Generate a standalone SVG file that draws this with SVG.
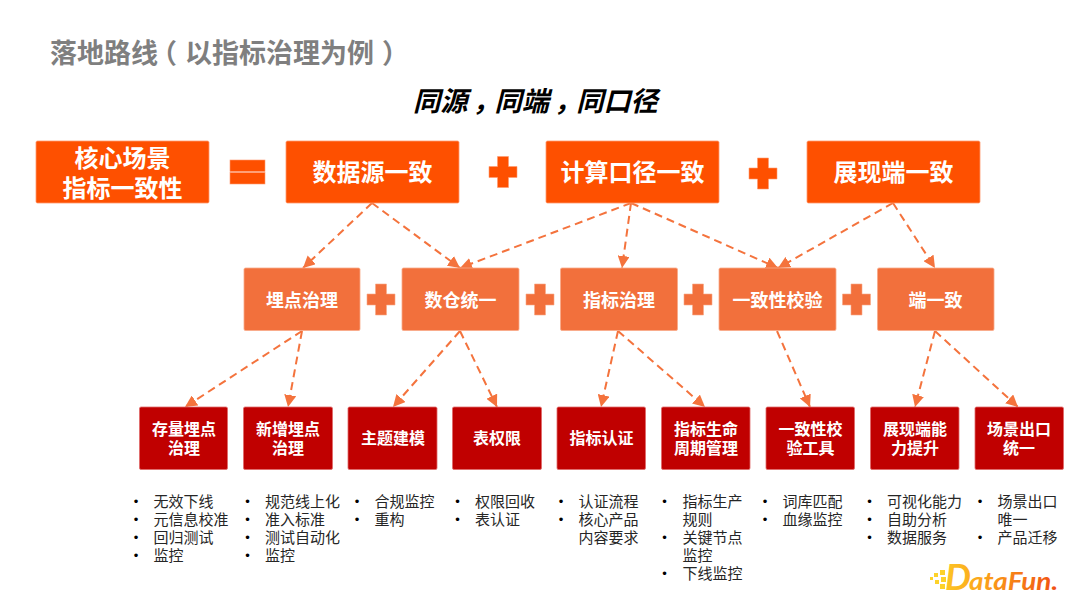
<svg xmlns="http://www.w3.org/2000/svg" width="1080" height="608" viewBox="0 0 1080 608">
<style>
text{font-family:"Noto Sans CJK SC","Noto Sans",sans-serif}
.title{font-size:27px;font-weight:700;fill:#7f7f7f}
.sub{font-size:27.2px;font-weight:700;font-style:italic;fill:#000}
.c{text-anchor:middle;fill:#fff;font-weight:700}
.t{font-size:24px}.m{font-size:18px}.b{font-size:16px}
.r1{fill:#fe5000;stroke:#ff9a70;stroke-width:.8}
.r2{fill:#f2703c;stroke:#f9a988;stroke-width:.8}
.r3{fill:#c00000;stroke:#e06a6a;stroke-width:.8}
.li{font-size:15px;fill:#262626}
.dot{font-family:"Liberation Sans",sans-serif;font-size:13px;fill:#000;text-anchor:middle}
.k{fill:none;stroke:#f4733d;stroke-width:2;stroke-dasharray:8 5;marker-end:url(#a)}
.op1{fill:#fe5000;stroke:#ff9a70;stroke-width:.6}
.op2{fill:#f2703c;stroke:#f9a988;stroke-width:.6}
.logo{font-family:Lato,"Liberation Sans",sans-serif;font-weight:700;font-style:italic;fill:url(#g)}
</style>
<defs>
<marker id="a" markerUnits="userSpaceOnUse" markerWidth="13" markerHeight="12" refX="12" refY="6" orient="auto"><path d="M0 0L12 6L0 12Z" fill="#f4733d"/></marker>
<linearGradient id="g" gradientUnits="userSpaceOnUse" x1="930" y1="0" x2="1058" y2="0"><stop offset="0" stop-color="#fdd22a"/><stop offset=".4" stop-color="#fba51a"/><stop offset="1" stop-color="#f04e12"/></linearGradient>
<path id="p" d="M-5.5-15.5H5.5V-5.5H14V5.5H5.5V15.5H-5.5V5.5H-14V-5.5H-5.5Z"/>
</defs>
<text class="title" x="50" y="63">落地路线<tspan dx="-8">（</tspan><tspan dx="8">以指标治理为例</tspan><tspan dx="8">）</tspan></text>
<text class="sub" x="413" y="111">同源<tspan dx="5">，</tspan><tspan dx="-5">同端</tspan><tspan dx="5">，</tspan><tspan dx="-5">同口径</tspan></text>

<g id="connectors">
<path class="k" d="M372 203L303 268"/>
<path class="k" d="M372 203L460 268"/>
<path class="k" d="M631 203L460 268"/>
<path class="k" d="M631 203L622 268"/>
<path class="k" d="M631 203L778 268"/>
<path class="k" d="M893 203L778 268"/>
<path class="k" d="M893 203L935 268"/>
<path class="k" d="M302 331L185 407"/>
<path class="k" d="M302 331L288 407"/>
<path class="k" d="M460 331L393 407"/>
<path class="k" d="M460 331L497 407"/>
<path class="k" d="M618 331L601 407"/>
<path class="k" d="M618 331L705 407"/>
<path class="k" d="M777 331L810 407"/>
<path class="k" d="M935 331L915 407"/>
<path class="k" d="M935 331L1018 407"/>
</g>

<g id="n-core"><rect class="r1" x="36" y="141" width="173" height="62" rx="1.5"/><text class="c t" x="122.5" y="166.5">核心场景</text><text class="c t" x="122.5" y="196.5">指标一致性</text></g>
<g id="op-eq"><rect class="op1" x="230" y="160" width="35" height="11.5"/><rect class="op1" x="230" y="172.5" width="35" height="11.5"/></g>
<g id="n-source"><rect class="r1" x="286" y="141" width="173" height="62" rx="1.5"/><text class="c t" x="372.5" y="181">数据源一致</text></g>
<g id="op-p1"><use href="#p" class="op1" x="503" y="172"/></g>
<g id="n-calc"><rect class="r1" x="546" y="141" width="173" height="62" rx="1.5"/><text class="c t" x="632.5" y="181">计算口径一致</text></g>
<g id="op-p2"><use href="#p" class="op1" x="763" y="173.500"/></g>
<g id="n-display"><rect class="r1" x="807" y="141" width="173" height="62" rx="1.5"/><text class="c t" x="893.500" y="181">展现端一致</text></g>

<g id="n-track"><rect class="r2" x="244" y="268" width="116" height="62.500" rx="1.500"/><text class="c m" x="302" y="306.500">埋点治理</text></g>
<g id="op-p3"><use href="#p" class="op2" x="381" y="299.500"/></g>
<g id="n-warehouse"><rect class="r2" x="402" y="268" width="117" height="62.500" rx="1.500"/><text class="c m" x="460.500" y="306.500">数仓统一</text></g>
<g id="op-p4"><use href="#p" class="op2" x="540" y="299.500"/></g>
<g id="n-metric"><rect class="r2" x="560.500" y="268" width="117" height="62.500" rx="1.500"/><text class="c m" x="619" y="306.500">指标治理</text></g>
<g id="op-p5"><use href="#p" class="op2" x="698" y="299.500"/></g>
<g id="n-check"><rect class="r2" x="719" y="268" width="117" height="62.500" rx="1.500"/><text class="c m" x="777.500" y="306.500">一致性校验</text></g>
<g id="op-p6"><use href="#p" class="op2" x="856.500" y="299.500"/></g>
<g id="n-end"><rect class="r2" x="877.500" y="268" width="116.500" height="62.500" rx="1.500"/><text class="c m" x="935.500" y="306.500">端一致</text></g>

<g id="n-b1"><rect class="r3" x="139.500" y="407" width="88" height="62.500" rx="1.500"/><text class="c b" x="184" y="435">存量埋点</text><text class="c b" x="184" y="454">治理</text></g>
<g id="n-b2"><rect class="r3" x="243.500" y="407" width="89" height="62.500" rx="1.500"/><text class="c b" x="288" y="435">新增埋点</text><text class="c b" x="288" y="454">治理</text></g>
<g id="n-b3"><rect class="r3" x="348" y="407" width="89" height="62.500" rx="1.500"/><text class="c b" x="393" y="444">主题建模</text></g>
<g id="n-b4"><rect class="r3" x="452.500" y="407" width="89" height="62.500" rx="1.500"/><text class="c b" x="497" y="444">表权限</text></g>
<g id="n-b5"><rect class="r3" x="557" y="407" width="88.500" height="62.500" rx="1.500"/><text class="c b" x="601.500" y="444">指标认证</text></g>
<g id="n-b6"><rect class="r3" x="661.500" y="407" width="88.500" height="62.500" rx="1.500"/><text class="c b" x="706" y="435">指标生命</text><text class="c b" x="706" y="454">周期管理</text></g>
<g id="n-b7"><rect class="r3" x="766" y="407" width="88.500" height="62.500" rx="1.500"/><text class="c b" x="810.500" y="435">一致性校</text><text class="c b" x="810.500" y="454">验工具</text></g>
<g id="n-b8"><rect class="r3" x="870.500" y="407" width="88.500" height="62.500" rx="1.500"/><text class="c b" x="915" y="435">展现端能</text><text class="c b" x="915" y="454">力提升</text></g>
<g id="n-b9"><rect class="r3" x="975" y="407" width="88.500" height="62.500" rx="1.500"/><text class="c b" x="1019" y="435">场景出口</text><text class="c b" x="1019" y="454">统一</text></g>

<g id="lists">
<g><text class="dot" x="136" y="506">•</text><text class="dot" x="136" y="524">•</text><text class="dot" x="136" y="542">•</text><text class="dot" x="136" y="560">•</text>
<text class="li" x="153.500" y="507">无效下线</text><text class="li" x="153.500" y="525">元信息校准</text><text class="li" x="153.500" y="543">回归测试</text><text class="li" x="153.500" y="561">监控</text></g>
<g><text class="dot" x="247.500" y="506">•</text><text class="dot" x="247.500" y="524">•</text><text class="dot" x="247.500" y="542">•</text><text class="dot" x="247.500" y="560">•</text>
<text class="li" x="265" y="507">规范线上化</text><text class="li" x="265" y="525">准入标准</text><text class="li" x="265" y="543">测试自动化</text><text class="li" x="265" y="561">监控</text></g>
<g><text class="dot" x="357" y="506">•</text><text class="dot" x="357" y="524">•</text>
<text class="li" x="374.500" y="507">合规监控</text><text class="li" x="374.500" y="525">重构</text></g>
<g><text class="dot" x="457.500" y="506">•</text><text class="dot" x="457.500" y="524">•</text>
<text class="li" x="475" y="507">权限回收</text><text class="li" x="475" y="525">表认证</text></g>
<g><text class="dot" x="561" y="506">•</text><text class="dot" x="561" y="524">•</text>
<text class="li" x="578.500" y="507">认证流程</text><text class="li" x="578.500" y="525">核心产品</text><text class="li" x="578.500" y="543">内容要求</text></g>
<g><text class="dot" x="664.500" y="506">•</text><text class="dot" x="664.500" y="542">•</text><text class="dot" x="664.500" y="578">•</text>
<text class="li" x="682.500" y="507">指标生产</text><text class="li" x="682.500" y="525">规则</text><text class="li" x="682.500" y="543">关键节点</text><text class="li" x="682.500" y="561">监控</text><text class="li" x="682.500" y="579">下线监控</text></g>
<g><text class="dot" x="765" y="506">•</text><text class="dot" x="765" y="524">•</text>
<text class="li" x="782.500" y="507">词库匹配</text><text class="li" x="782.500" y="525">血缘监控</text></g>
<g><text class="dot" x="869.500" y="506">•</text><text class="dot" x="869.500" y="524">•</text><text class="dot" x="869.500" y="542">•</text>
<text class="li" x="887" y="507">可视化能力</text><text class="li" x="887" y="525">自助分析</text><text class="li" x="887" y="543">数据服务</text></g>
<g><text class="dot" x="980" y="506">•</text><text class="dot" x="980" y="542">•</text>
<text class="li" x="997.500" y="507">场景出口</text><text class="li" x="997.500" y="525">唯一</text><text class="li" x="997.500" y="543">产品迁移</text></g>
</g>

<g id="logo">
<g fill="#fdd22a"><rect x="930" y="577" width="3" height="3"/><rect x="934" y="573" width="4" height="4"/><rect x="935" y="580" width="4" height="4"/><rect x="940" y="570" width="5" height="5"/><rect x="941" y="577" width="5" height="5"/><rect x="940" y="584" width="5" height="5"/></g>
<text class="logo" x="945" y="590" font-size="37" textLength="26" lengthAdjust="spacingAndGlyphs">D</text>
<text class="logo" x="969" y="590" font-size="25" textLength="89" lengthAdjust="spacingAndGlyphs">ataFun.</text>
</g>
</svg>
